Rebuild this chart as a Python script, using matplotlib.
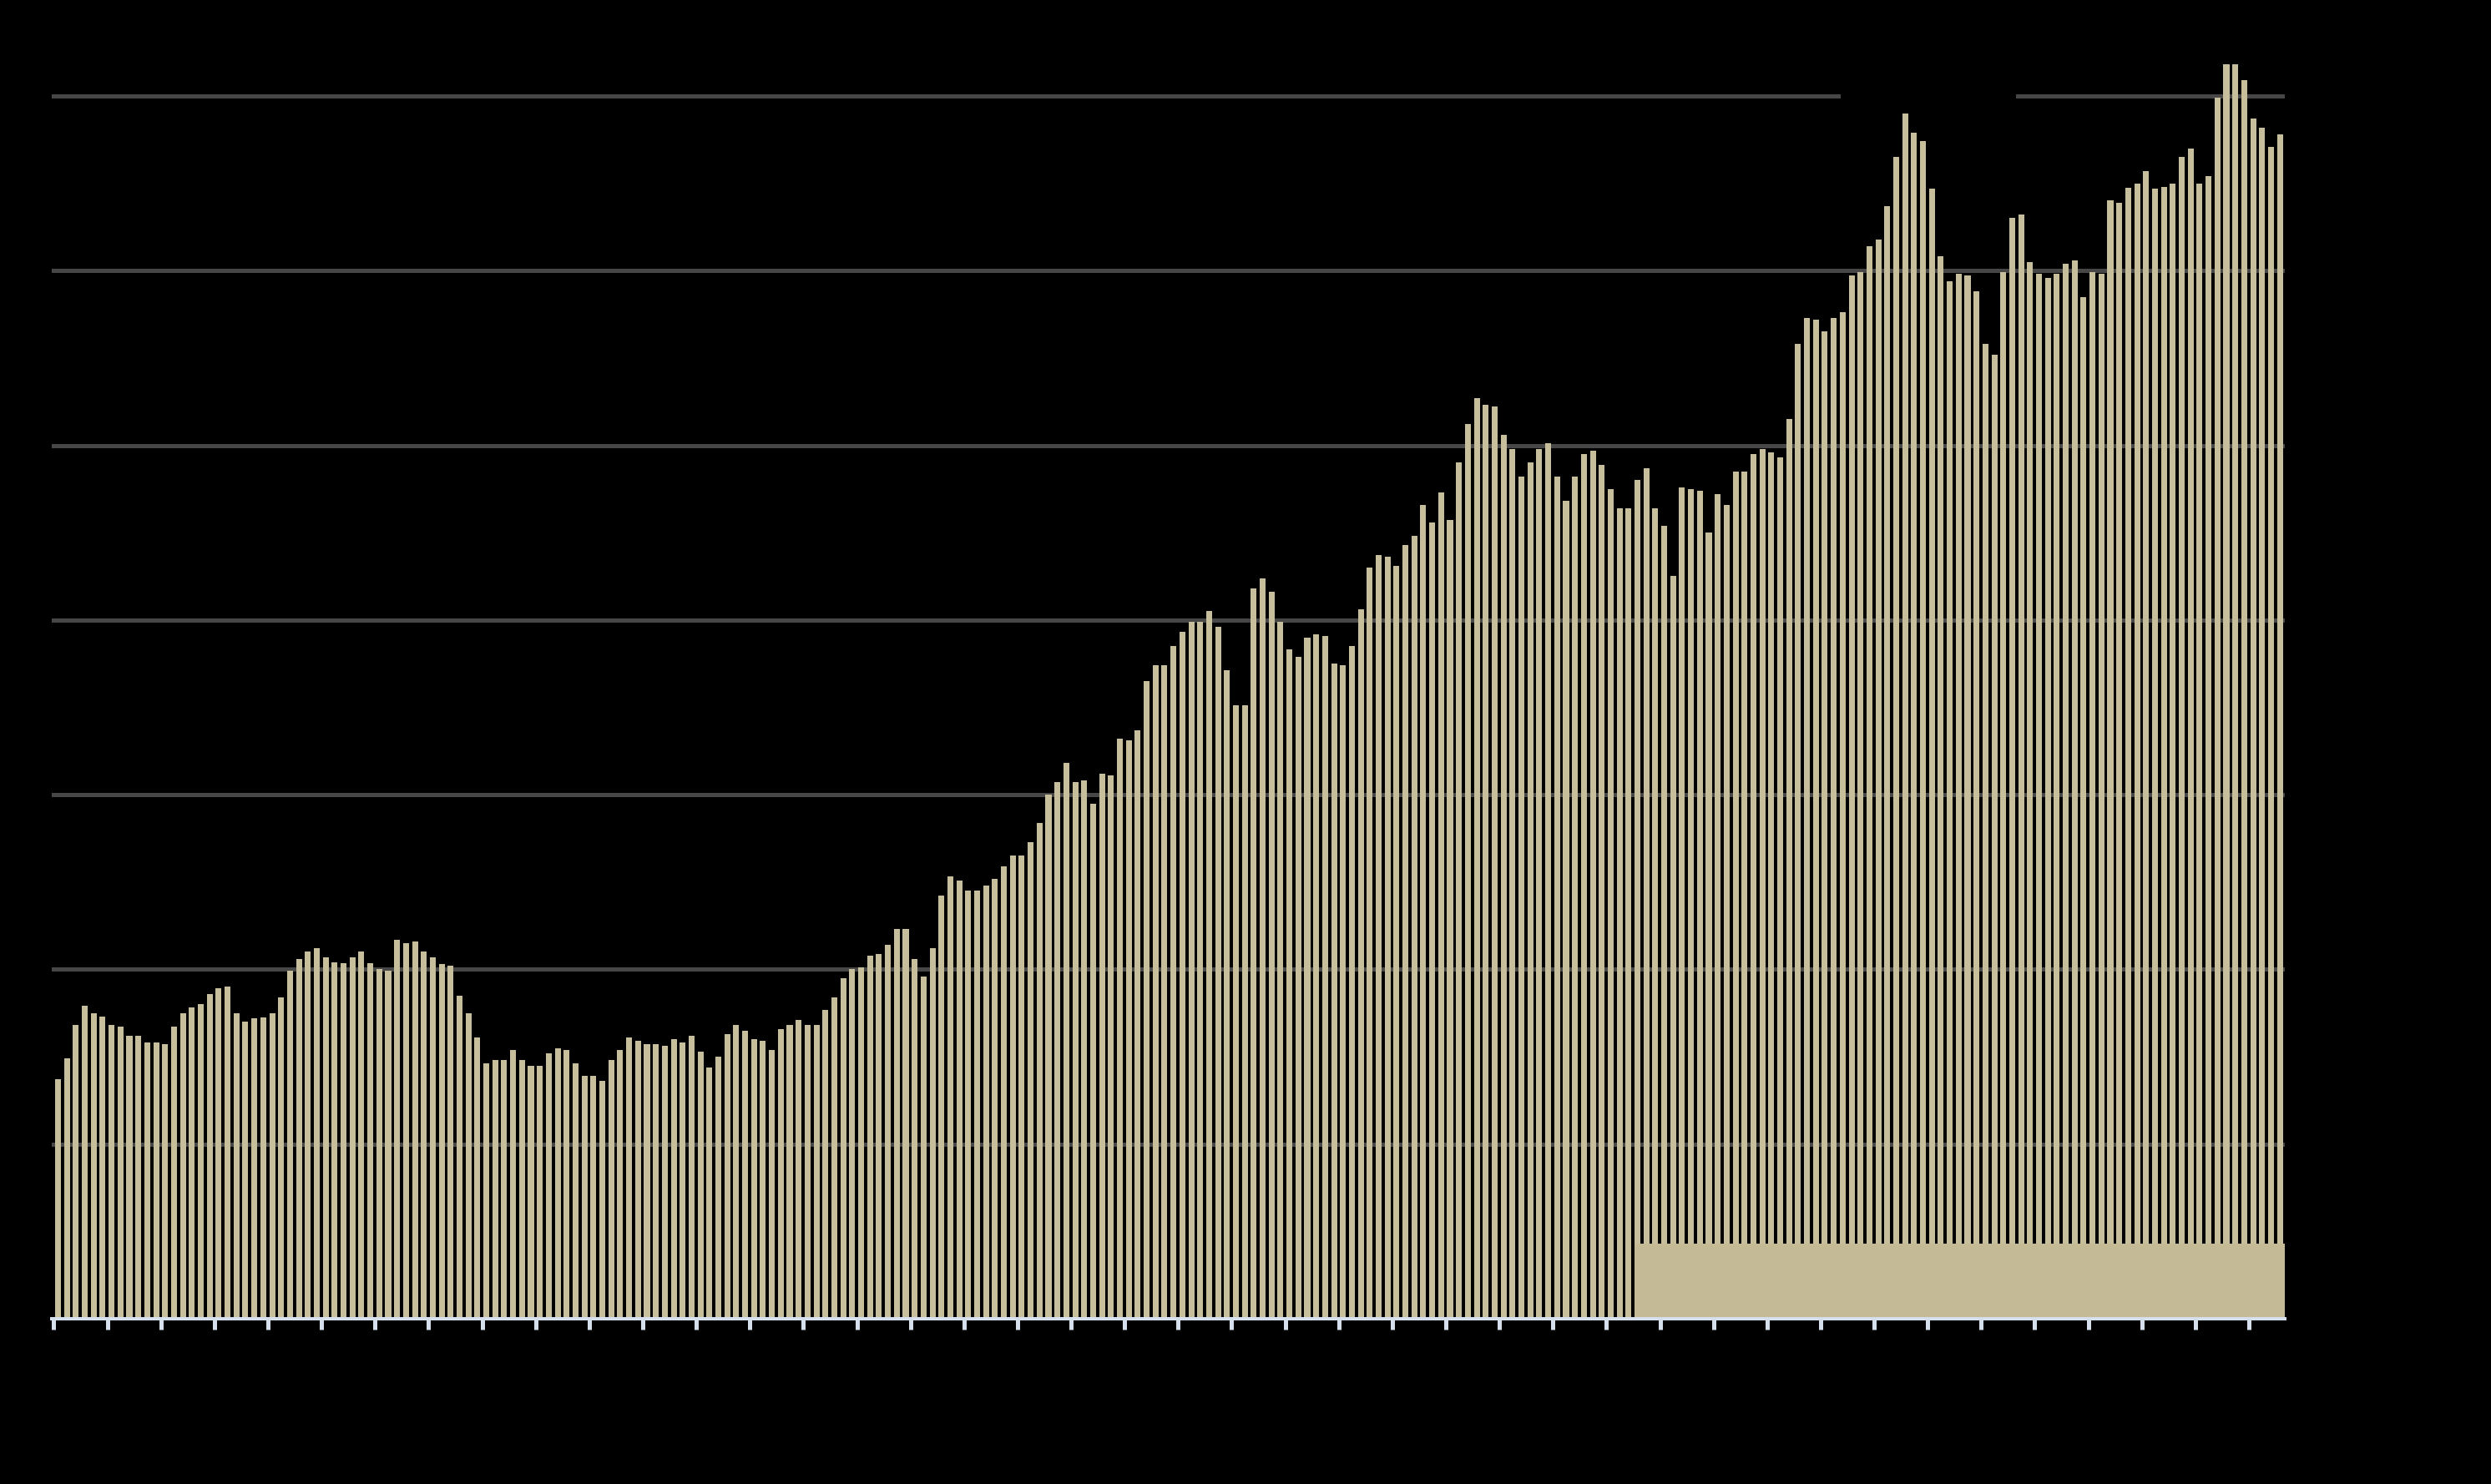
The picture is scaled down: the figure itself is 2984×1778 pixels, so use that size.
import numpy as np
import matplotlib
matplotlib.use("Agg")
import matplotlib.pyplot as plt
from matplotlib.patches import Rectangle

# ---- data (monthly values; gridline step = 10) ----
values = [
    13.7, 14.9, 16.8, 17.9, 17.5, 17.3, 16.8, 16.7, 16.2, 16.2,
    15.8, 15.8, 15.7, 16.7, 17.5, 17.8, 18.0, 18.6, 18.9, 19.0,
    17.5, 17.0, 17.2, 17.25, 17.5, 18.4, 19.9, 20.6, 21.0, 21.2,
    20.7, 20.4, 20.35, 20.7, 21.0, 20.35, 20.0, 19.9, 21.7, 21.5,
    21.6, 21.0, 20.7, 20.3, 20.2, 18.5, 17.5, 16.1, 14.6, 14.8,
    14.8, 15.4, 14.8, 14.5, 14.5, 15.2, 15.5, 15.4, 14.6, 13.9,
    13.9, 13.6, 14.8, 15.4, 16.1, 15.9, 15.7, 15.7, 15.6, 16.0,
    15.8, 16.2, 15.3, 14.4, 15.0, 16.3, 16.8, 16.5, 16.0, 15.9,
    15.4, 16.6, 16.8, 17.1, 16.8, 16.8, 17.7, 18.4, 19.5, 20.0,
    20.1, 20.8, 20.9, 21.4, 22.3, 22.3, 20.6, 19.6, 21.2, 24.2,
    25.3, 25.1, 24.5, 24.5, 24.8, 25.2, 25.9, 26.5, 26.5, 27.3,
    28.4, 30.0, 30.7, 31.8, 30.7, 30.8, 29.5, 31.2, 31.1, 33.2,
    33.1, 33.7, 36.5, 37.4, 37.4, 38.5, 39.3, 39.9, 39.9, 40.5,
    39.6, 37.1, 35.1, 35.1, 41.8, 42.4, 41.6, 39.9, 38.3, 37.9,
    39.0, 39.2, 39.1, 37.5, 37.4, 38.5, 40.6, 43.0, 43.7, 43.6,
    43.1, 44.3, 44.8, 46.6, 45.6, 47.3, 45.7, 49.0, 51.2, 52.7,
    52.3, 52.2, 50.6, 49.8, 48.2, 49.0, 49.8, 50.1, 48.2, 46.8,
    48.2, 49.5, 49.7, 48.9, 47.5, 46.4, 46.4, 48.0, 48.7, 46.4,
    45.4, 42.5, 47.6, 47.5, 47.4, 45.0, 47.2, 46.6, 48.5, 48.5,
    49.5, 49.8, 49.6, 49.3, 51.5, 55.8, 57.3, 57.2, 56.5, 57.3,
    57.6, 59.7, 59.9, 61.4, 61.8, 63.7, 66.5, 69.0, 67.9, 67.4,
    64.7, 60.8, 59.4, 59.8, 59.7, 58.8, 55.8, 55.2, 59.9, 63.0,
    63.2, 60.5, 59.8, 59.6, 59.8, 60.4, 60.6, 58.5, 59.9, 59.8,
    64.0, 63.9, 64.75, 65.0, 65.7, 64.7, 64.8, 65.0, 66.5, 67.0,
    65.0, 65.4, 69.9, 71.8, 71.8, 70.9, 68.7, 68.2, 67.1, 67.8,
]
months = np.arange(len(values))
tick_positions = list(range(0, len(values), 6))
grid_levels = [0, 10, 20, 30, 40, 50, 60, 70]
highlight_start = 177          # first month of the highlighted band
highlight_height = 4.3
label_gap = (200.25, 219.9)    # blank area on the top gridline

BAR = "#c7be9b"
BAND = "#c4ba96"
GRID = "#474747"
AXIS = "#d6e0ec"

W, H, DPI = 2984, 1778, 100
fig = plt.figure(figsize=(W / DPI, H / DPI), dpi=DPI, facecolor="black")

ax_left_px, ax_right_px = 61.8, 2737.0
base_px = 1580.0
unit_px = 20.93
ymax = 74.0
ax_h_px = ymax * unit_px
ax = fig.add_axes([ax_left_px / W, (H - base_px) / H,
                   (ax_right_px - ax_left_px) / W, ax_h_px / H])
ax.set_facecolor("black")

ax.bar(months + 0.14, values, width=0.66, align="edge",
       color=BAR, edgecolor="none", linewidth=0, zorder=2)

ax.set_xlim(-0.25, 250.02)
ax.set_ylim(0, ymax)

# gridlines
ax.set_yticks(grid_levels)
ax.yaxis.grid(True, color=GRID, linewidth=3.6, zorder=0.5)
ax.set_axisbelow(True)
ax.tick_params(axis="y", left=False, labelleft=False)

# blank area on the top gridline
ax.add_patch(Rectangle((label_gap[0], 69.3), label_gap[1] - label_gap[0], 1.4,
                       facecolor="black", edgecolor="none", zorder=1.5))

# highlighted band at the bottom
ax.add_patch(Rectangle((highlight_start + 0.14, 0),
                       250.02 - (highlight_start + 0.14), highlight_height,
                       facecolor=BAND, edgecolor="none", zorder=2.2))

for s in ["left", "right", "top"]:
    ax.spines[s].set_visible(False)
ax.spines["bottom"].set_color(AXIS)
ax.spines["bottom"].set_linewidth(2.9)
ax.spines["bottom"].set_zorder(3)

ax.set_xticks(tick_positions)
ax.set_xticklabels([])
ax.tick_params(axis="x", direction="out", length=9.4, width=3.6,
               color=AXIS, labelbottom=False)

fig.savefig("out.png", dpi=DPI, facecolor="black")
